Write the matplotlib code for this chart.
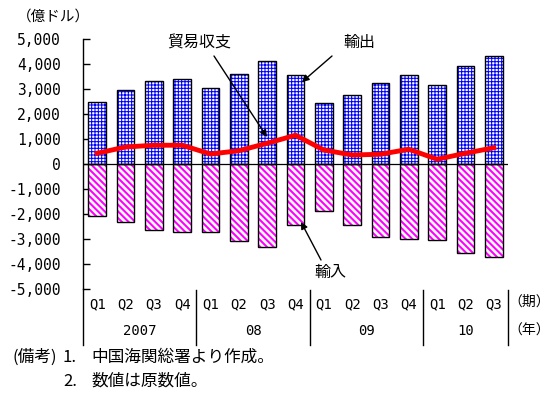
import matplotlib
matplotlib.use("Agg")
import matplotlib.pyplot as plt
import matplotlib.transforms as mtransforms
import numpy as np

plt.rcParams['font.family'] = ['Noto Sans CJK JP', 'DejaVu Sans']
MONO = ['DejaVu Sans Mono']

quarters = ["Q1", "Q2", "Q3", "Q4", "Q1", "Q2", "Q3", "Q4",
            "Q1", "Q2", "Q3", "Q4", "Q1", "Q2", "Q3"]
years = ["2007", "08", "09", "10"]
year_sizes = [4, 4, 4, 3]
exports = [2500, 2960, 3320, 3400, 3050, 3600, 4110, 3560,
           2440, 2750, 3250, 3560, 3160, 3910, 4310]
imports = [-2090, -2320, -2650, -2710, -2710, -3090, -3310, -2450,
           -1890, -2450, -2900, -3010, -3050, -3550, -3710]
balance = [430, 680, 750, 750, 400, 530, 830, 1150,
           560, 360, 390, 590, 190, 430, 650]
ytick_vals = [5000, 4000, 3000, 2000, 1000, 0, -1000, -2000, -3000, -4000, -5000]
ytick_labels = ["5,000", "4,000", "3,000", "2,000", "1,000", "0",
                "-1,000", "-2,000", "-3,000", "-4,000", "-5,000"]

W, H = 553, 404
fig = plt.figure(figsize=(W / 100, H / 100), dpi=100)
ax_l, ax_r, ax_t, ax_b = 83, 508, 39, 289
ax = fig.add_axes([ax_l / W, 1 - ax_b / H, (ax_r - ax_l) / W, (ax_b - ax_t) / H])

x = np.arange(len(quarters))
bw = 0.62
# exports: blue grid hatch
plt.rcParams['hatch.linewidth'] = 0.75
ax.bar(x, exports, bw, color='white', edgecolor='#0000FF', linewidth=0,
       hatch='+++++', zorder=2)
ax.bar(x, exports, bw, fill=False, edgecolor='black', linewidth=1.0, zorder=3)
# imports: magenta diagonal
plt.rcParams['hatch.linewidth'] = 1.5
ax.bar(x, imports, bw, color='white', edgecolor='#FF00FF', linewidth=0,
       hatch='\\\\\\\\\\', zorder=2)
ax.bar(x, imports, bw, fill=False, edgecolor='black', linewidth=1.0, zorder=3)

ax.plot(x, balance, color='#FF0000', lw=3.5, zorder=4, solid_joinstyle='miter')

ax.axhline(0, color='black', lw=0.9, zorder=3.5)
ax.set_xlim(-0.5, len(quarters) - 0.5)
ax.set_ylim(-5000, 5000)
ax.set_yticks(ytick_vals)
ax.set_yticklabels(ytick_labels, fontsize=10.5, family=MONO)
ax.tick_params(axis='y', direction='in', length=5, pad=16, width=1)
ax.set_xticks([])
for s in ['top', 'right', 'bottom']:
    ax.spines[s].set_visible(False)
ax.spines['left'].set_linewidth(1.0)

trans = mtransforms.blended_transform_factory(ax.transData, ax.transAxes)
px = 1.0 / (ax_b - ax_t)
# separators
bounds = [-0.5]
for n in year_sizes:
    bounds.append(bounds[-1] + n)
for i, b in enumerate(bounds):
    y0 = 0 if i == 0 else -1 * px
    ax.plot([b, b], [y0, -56 * px], color='black', lw=1.0, transform=trans,
            clip_on=False)
for xi, q in zip(x, quarters):
    ax.text(xi, -15 * px, q, transform=trans, ha='center', va='center',
            fontsize=10, family=MONO)
start = 0
for yr, n in zip(years, year_sizes):
    ax.text(start + (n - 1) / 2, -42 * px, yr, transform=trans, ha='center',
            va='center', fontsize=10, family=MONO)
    start += n

fig.text(529 / W, 1 - 302 / H, "（期）", ha='center', va='center', fontsize=10)
fig.text(529 / W, 1 - 331 / H, "（年）", ha='center', va='center', fontsize=10)
fig.text(53 / W, 1 - 17 / H, "（億ドル）", ha='center', va='center', fontsize=10.5)

def to_data(px_x, px_y):
    inv = ax.transData.inverted()
    return inv.transform(fig.transFigure.transform((px_x / W, 1 - px_y / H)))

arrow = dict(arrowstyle='-|>', color='black', lw=1.0, mutation_scale=10,
             shrinkA=0, shrinkB=0)
ax.annotate("", xy=to_data(267, 137), xytext=to_data(214, 56), arrowprops=arrow,
            annotation_clip=False, zorder=6)
ax.annotate("", xy=to_data(302, 82), xytext=to_data(332, 56), arrowprops=arrow,
            annotation_clip=False, zorder=6)
ax.annotate("", xy=to_data(301, 222), xytext=to_data(321, 260), arrowprops=arrow,
            annotation_clip=False, zorder=6)
fig.text(199 / W, 1 - 43 / H, "貿易収支", ha='center', va='center', fontsize=11.5)
fig.text(359 / W, 1 - 42 / H, "輸出", ha='center', va='center', fontsize=11.5)
fig.text(330 / W, 1 - 272 / H, "輸入", ha='center', va='center', fontsize=11.5)

fig.text(12 / W, 1 - 357 / H, "(備考)", ha='left', va='center', fontsize=12)
fig.text(63 / W, 1 - 357 / H, "1.", ha='left', va='center', fontsize=12)
fig.text(91 / W, 1 - 357 / H, "中国海関総署より作成。", ha='left', va='center',
         fontsize=12)
fig.text(63 / W, 1 - 381 / H, "2.", ha='left', va='center', fontsize=12)
fig.text(91 / W, 1 - 381 / H, "数値は原数値。", ha='left', va='center',
         fontsize=12)

fig.savefig("out.png", dpi=100)
